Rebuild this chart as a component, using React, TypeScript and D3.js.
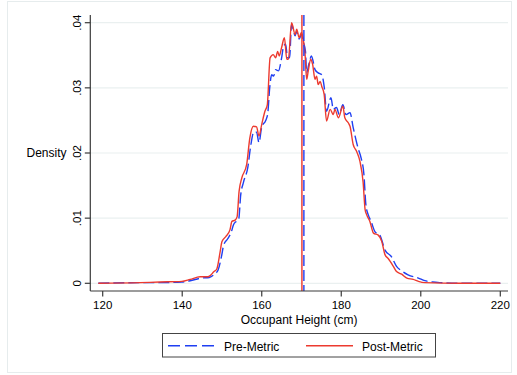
import React from "react";
import * as d3 from "d3";

const xTicks = [120, 140, 160, 180, 200, 220];
const yTicks = [0, 0.01, 0.02, 0.03, 0.04];
const yTickLabels = ["0", ".01", ".02", ".03", ".04"];

const postX = [118.9, 129.4, 134.4, 139.9, 142, 144.5, 146.5, 148, 148.7, 149.5, 150, 151, 152, 152.5, 153.3, 153.8, 154.3, 155, 156.2, 157, 157.9, 158.7, 159.3, 160, 160.8, 161.4, 162.1, 162.9, 163.5, 164, 164.4, 165, 165.7, 166.3, 166.7, 167.5, 168.4, 168.8, 169.4, 170, 170.5, 170.9, 171.3, 171.7, 172.3, 172.8, 173.4, 173.8, 174.2, 174.7, 175.1, 175.7, 176.3, 177.2, 178, 178.4, 179.3, 180.4, 180.9, 181.8, 182.2, 183, 183.9, 184.7, 185.5, 186, 186.4, 187.2, 188.1, 189.3, 190.2, 191, 191.8, 193.1, 193.9, 195.2, 196.5, 198.1, 199.4, 201, 210, 220];
const postY = [0.0, 0.0001, 0.0002, 0.0003, 0.0006, 0.001, 0.001, 0.0018, 0.0022, 0.0047, 0.0064, 0.0072, 0.0082, 0.0095, 0.0097, 0.0102, 0.0141, 0.0162, 0.0182, 0.0223, 0.0241, 0.024, 0.0226, 0.0244, 0.0264, 0.0274, 0.0346, 0.0351, 0.0346, 0.0356, 0.0349, 0.0362, 0.0377, 0.0344, 0.0344, 0.04, 0.0382, 0.039, 0.0377, 0.0385, 0.0372, 0.0351, 0.0313, 0.0326, 0.0344, 0.0336, 0.0313, 0.0318, 0.0305, 0.031, 0.0302, 0.029, 0.0249, 0.0267, 0.0259, 0.0267, 0.0254, 0.0272, 0.0254, 0.0246, 0.0241, 0.0213, 0.0202, 0.0187, 0.0155, 0.0113, 0.0105, 0.0095, 0.0077, 0.0074, 0.0064, 0.0044, 0.0038, 0.0026, 0.0018, 0.0014, 0.0008, 0.0006, 0.0003, 0.0001, 0.0, 0.0];

const preX = [118.9, 129.4, 134.4, 139.9, 142, 144.8, 146.8, 148.3, 149, 149.9, 150.4, 151.4, 152.3, 152.9, 153.6, 154.2, 154.7, 155.4, 156.5, 157.2, 158, 158.7, 159.3, 160, 161, 161.5, 162, 162.5, 163, 163.5, 164.2, 165, 165.5, 166, 166.5, 167, 167.5, 168.4, 168.8, 169.4, 170, 170.5, 171, 171.3, 171.8, 172.5, 173.4, 174.2, 175.1, 175.7, 176.3, 177.4, 178, 178.8, 179.5, 180.4, 181.2, 182.2, 183, 184.2, 185, 185.7, 186.2, 186.8, 187.5, 188.5, 189.7, 191, 192.6, 193.9, 195.2, 196.8, 199.4, 201, 203, 205, 210, 220];
const preY = [0.0, 0.0001, 0.0001, 0.0002, 0.0004, 0.0008, 0.0009, 0.0015, 0.002, 0.0042, 0.0058, 0.0068, 0.0078, 0.009, 0.0095, 0.0098, 0.0135, 0.0155, 0.0178, 0.021, 0.0232, 0.0232, 0.0216, 0.024, 0.025, 0.026, 0.03, 0.032, 0.0318, 0.0328, 0.0326, 0.0346, 0.0364, 0.0367, 0.0346, 0.0346, 0.0397, 0.038, 0.0387, 0.0375, 0.0382, 0.037, 0.0356, 0.0323, 0.0335, 0.0349, 0.0328, 0.0323, 0.032, 0.0302, 0.0264, 0.0285, 0.0267, 0.027, 0.0259, 0.0274, 0.0259, 0.0262, 0.0239, 0.0208, 0.0192, 0.0167, 0.012, 0.0105, 0.0095, 0.0079, 0.0074, 0.0051, 0.0041, 0.0026, 0.0019, 0.0013, 0.0008, 0.0004, 0.0002, 0.0001, 0.0, 0.0];

const preMean = 170.6;
const postMean = 170.1;

const BLUE = "#1f3ff2";
const RED = "#ec3a2f";
const FONT = "'Liberation Sans', Arial, Helvetica, sans-serif";

export default function App() {
  const x = d3.scaleLinear().domain([120, 220]).range([102.7, 500.3]);
  const y = d3.scaleLinear().domain([0, 0.04]).range([283.3, 22.7]);
  const plotLeft = 90.3;
  const plotRight = 508;
  const plotTop = 15;
  const plotBottom = 291;

  const line = d3
    .line<[number, number]>()
    .x((d) => x(d[0]))
    .y((d) => y(d[1]))
    .curve(d3.curveMonotoneX);

  const preData: [number, number][] = preX.map((v, i) => [v, preY[i]]);
  const postData: [number, number][] = postX.map((v, i) => [v, postY[i]]);

  return (
    <svg
      width={517}
      height={375}
      style={{ position: "absolute", left: 0, top: 0, background: "#fff" }}
      fontFamily={FONT}
    >
      <rect x={7.5} y={1.5} width={504} height={371} fill="#fff" stroke="#e6eced" strokeWidth={1} />
      {yTicks.map((t) => (
        <line key={"g" + t} x1={plotLeft} x2={plotRight} y1={y(t)} y2={y(t)} stroke="#eaf0f0" strokeWidth={1.2} />
      ))}
      <path d={line(preData) || ""} fill="none" stroke={BLUE} strokeWidth={1.4} strokeDasharray="11 4" />
      <path d={line(postData) || ""} fill="none" stroke={RED} strokeWidth={1.4} />
      <line x1={x(postMean)} x2={x(postMean)} y1={plotTop} y2={plotBottom} stroke={RED} strokeWidth={1.8} strokeOpacity={0.8} />
      <line x1={x(preMean)} x2={x(preMean)} y1={plotTop} y2={plotBottom} stroke={BLUE} strokeWidth={1.4} strokeDasharray="11 4" />
      <line x1={plotLeft} x2={plotLeft} y1={plotTop} y2={plotBottom} stroke="#3a3a3a" strokeWidth={1.2} />
      <line x1={plotLeft} x2={plotRight} y1={plotBottom} y2={plotBottom} stroke="#3a3a3a" strokeWidth={1.2} />
      {yTicks.map((t, i) => (
        <g key={"y" + t}>
          <line x1={plotLeft - 5.5} x2={plotLeft} y1={y(t)} y2={y(t)} stroke="#3a3a3a" strokeWidth={1.2} />
          <text
            transform={`translate(80.5,${y(t)}) rotate(-90)`}
            textAnchor="middle"
            fontSize={11.5}
            fill="#000"
          >
            {yTickLabels[i]}
          </text>
        </g>
      ))}
      {xTicks.map((t) => (
        <g key={"x" + t}>
          <line x1={x(t)} x2={x(t)} y1={plotBottom} y2={plotBottom + 5.5} stroke="#3a3a3a" strokeWidth={1.2} />
          <text x={x(t)} y={309} textAnchor="middle" fontSize={11.5} fill="#000">
            {t}
          </text>
        </g>
      ))}
      <text x={66.5} y={156.8} textAnchor="end" fontSize={12} fill="#000">
        Density
      </text>
      <text x={(plotLeft + plotRight) / 2} y={324.3} textAnchor="middle" fontSize={12} fill="#000">
        Occupant Height (cm)
      </text>
      <rect x={162.5} y={333.5} width={273} height={23.5} fill="#fff" stroke="#444" strokeWidth={1} />
      <line x1={168} x2={216} y1={345.7} y2={345.7} stroke={BLUE} strokeWidth={1.4} strokeDasharray="12 5" />
      <text x={224} y={350.8} fontSize={12} fill="#000">
        Pre-Metric
      </text>
      <line x1={306} x2={353} y1={345.7} y2={345.7} stroke={RED} strokeWidth={1.4} />
      <text x={362} y={350.8} fontSize={12} fill="#000">
        Post-Metric
      </text>
    </svg>
  );
}
